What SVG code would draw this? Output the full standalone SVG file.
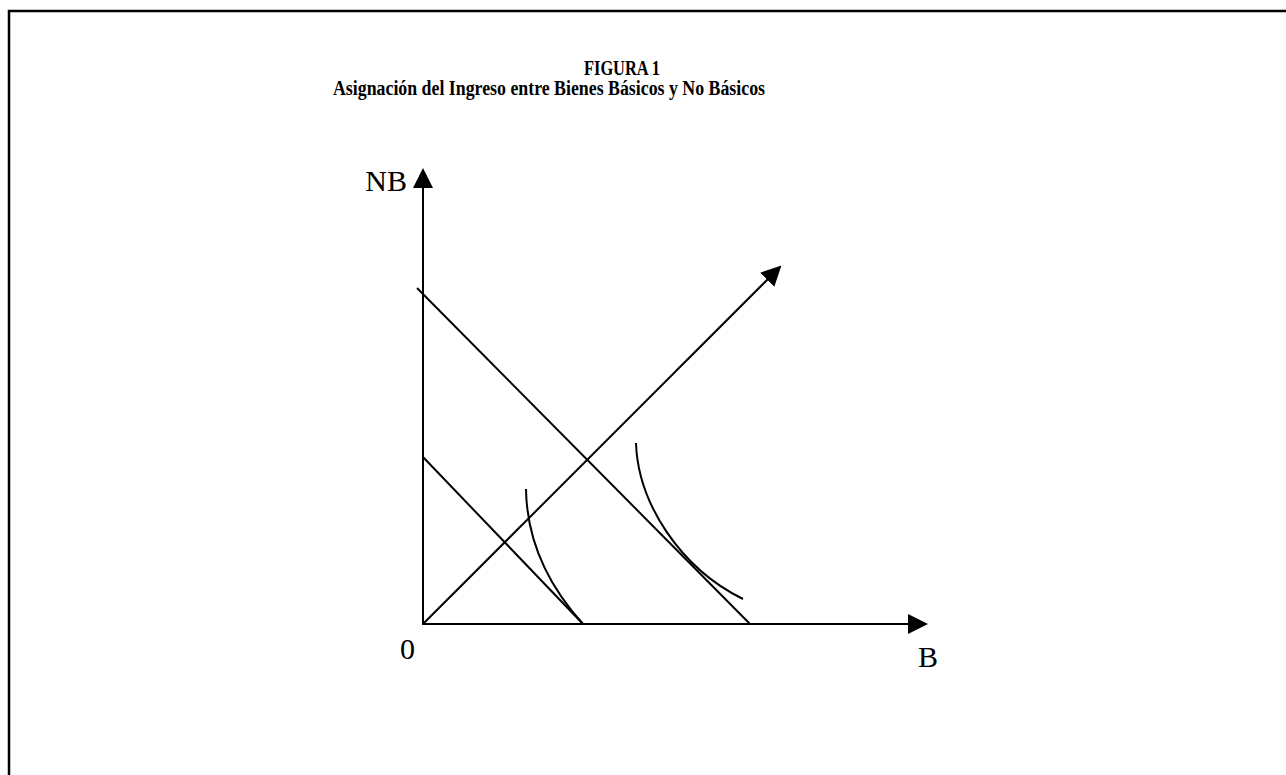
<svg xmlns="http://www.w3.org/2000/svg" width="1286" height="775" viewBox="0 0 1286 775">
<style>
.title{font-family:"Liberation Serif","Times New Roman",serif;font-weight:bold;font-size:20px;fill:#000}
.lbl{font-family:"Liberation Serif","Times New Roman",serif;font-size:30px;fill:#000}
.ln{stroke:#000;stroke-width:2;fill:none}
</style>
<defs>
<marker id="arr" viewBox="0 0 20 20" refX="18" refY="10" markerWidth="20" markerHeight="20" markerUnits="userSpaceOnUse" orient="auto">
<path d="M0,0 L20,10 L0,20 Z" fill="#000"/>
</marker>
</defs>
<rect width="1286" height="775" fill="#fff"/>
<g id="frame">
<path d="M9,775 L9,11 L1286,11" stroke="#000" stroke-width="2.5" fill="none"/>
</g>
<g id="title">
<text class="title" x="584" y="75" textLength="76" lengthAdjust="spacingAndGlyphs">FIGURA 1</text>
<text class="title" x="333" y="95" textLength="432" lengthAdjust="spacingAndGlyphs">Asignación del Ingreso entre Bienes Básicos y No Básicos</text>
</g>
<g id="connectors">
<line id="y-axis" class="ln" x1="423" y1="625" x2="423" y2="170" marker-end="url(#arr)"/>
<line id="x-axis" class="ln" x1="422" y1="624" x2="926" y2="624" marker-end="url(#arr)"/>
<line id="ray" class="ln" x1="423" y1="624" x2="780" y2="267" marker-end="url(#arr)"/>
<line id="budget-2" class="ln" x1="417" y1="288" x2="750" y2="624"/>
<line id="budget-1" class="ln" x1="423" y1="457" x2="583" y2="624"/>
<path id="indiff-1" class="ln" d="M526,489 Q527,562 583,624"/>
<path id="indiff-2" class="ln" d="M636,443 C638,503 680,568 743,599"/>
</g>
<g id="label-NB"><text class="lbl" x="407" y="191" text-anchor="end">NB</text></g>
<g id="label-0"><text class="lbl" x="400" y="659">0</text></g>
<g id="label-B"><text class="lbl" x="918" y="667">B</text></g>
</svg>
